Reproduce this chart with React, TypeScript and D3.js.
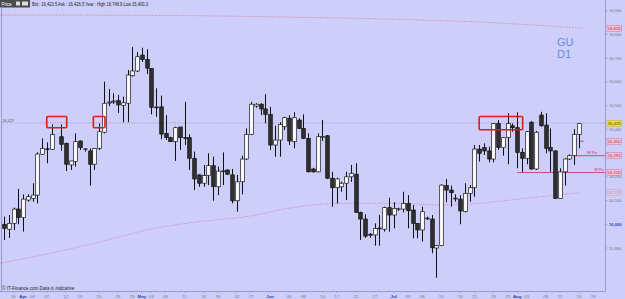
import React from 'react';
import * as d3 from 'd3';

const W = 625;
const H = 299;

// Trading sessions: Mon-Fri plus Sunday sessions (FX), Mar 28 – Aug 19, 2011
const SESSION_START = new Date(2011, 2, 28);
const SESSION_END = new Date(2011, 7, 19);

// OHLC per session index (null = no candle)
const opens: (number | null)[] = [16000,15979,16004,16064,16028,16102,16109,16123,16295,16318,16316,null,16369,16341,16250,16264,16351,16317,16309,16253,16320,16388,16511,16515,16521,16500,16510,16626,16646,16713,16694,16657,16494,16495,16383,16365,16348,16410,16365,16365,16278,16208,16173,16205,16247,16158,16224,16229,16208,16099,16179,16275,16379,16498,16506,16486,16463,16334,16355,16411,16447,16348,16439,16404,16362,16233,16221,16366,16373,16194,16154,16158,16173,16200,16211,16050,16022,15958,15955,15983,15979,16070,16039,16064,16064,16088,16060,16004,15976,16025,16022,15900,15910,16163,16144,16109,16106,16053,16130,16154,16317,16323,16309,16275,16425,16323,16365,16415,16407,16303,16278,16430,16233,16460,16418,16323,16309,16109,16221,16275,16289,16379];
const highs: (number | null)[] = [16032,16039,16070,16149,16126,16126,16173,16303,16362,16345,16421,null,16421,16344,16267,16383,16353,16320,16320,16321,16425,16601,16570,16552,16545,16538,16650,16747,16726,16744,16738,16658,16573,16542,16460,16369,16411,16410,16516,16379,16306,16211,16250,16299,16285,16243,16303,16230,16233,16208,16289,16404,16516,16510,16510,16548,16495,16415,16430,16453,16460,16472,16447,16463,16383,16238,16383,16439,16376,16221,16196,16179,16221,16250,16257,16053,16042,15963,16004,16039,16074,16112,16093,16070,16137,16123,16081,16005,16074,16032,16039,15913,16168,16191,16163,16126,16123,16173,16165,16334,16334,16341,16327,16427,16439,16366,16468,16425,16472,16320,16393,16435,16393,16474,16468,16404,16313,16236,16278,16295,16401,16425];
const lows: (number | null)[] = [15934,15942,15976,16000,15969,16095,16095,16088,16292,16257,16313,null,16310,16224,16229,16243,16313,16306,16163,16229,16313,16383,16498,16507,16469,16430,16430,16622,16642,16684,16633,16463,16453,16358,16355,16348,16267,16313,16334,16229,16144,16158,16158,16165,16099,16123,16165,16208,16088,16053,16126,16271,16376,16491,16460,16425,16313,16285,16285,16397,16334,16320,16401,16359,16219,16217,16219,16351,16191,16074,16088,16137,16102,16179,16049,15934,15943,15943,15910,15910,15969,15969,15983,16056,16050,15983,15941,15941,15927,16018,15878,15775,15908,16093,16074,16095,16000,16050,16095,16116,16264,16292,16261,16261,16313,16289,16253,16390,16236,16221,16253,16229,16229,16411,16299,16221,16108,16108,16163,16271,16250,16320];
const closes: (number | null)[] = [15983,16004,16064,16028,16106,16116,16123,16296,16320,16316,16379,null,16337,16253,16267,16348,16323,16318,16253,16320,16390,16510,16515,16519,16503,16512,16629,16646,16706,16694,16658,16493,16491,16380,16365,16348,16407,16365,16364,16278,16191,16173,16205,16247,16158,16224,16225,16211,16099,16179,16275,16379,16506,16506,16486,16463,16334,16355,16421,16449,16351,16449,16404,16362,16221,16221,16369,16370,16194,16154,16191,16173,16200,16215,16050,16022,15950,15954,15983,15984,16070,16039,16067,16065,16088,16057,16004,15976,16053,16026,15901,15910,16165,16144,16133,16110,16056,16130,16154,16317,16299,16309,16275,16425,16323,16365,16425,16407,16303,16278,16390,16233,16388,16415,16320,16309,16109,16221,16275,16289,16379,16424];

// Date tick labels
const tickDates = ['2011-03-30','2011-04-01','2011-04-04','2011-04-07','2011-04-12','2011-04-15','2011-04-20','2011-04-25','2011-04-28','2011-05-01','2011-05-03','2011-05-06','2011-05-11','2011-05-16','2011-05-19','2011-05-24','2011-05-27','2011-06-01','2011-06-06','2011-06-09','2011-06-14','2011-06-17','2011-06-22','2011-06-27','2011-07-01','2011-07-05','2011-07-08','2011-07-13','2011-07-18','2011-07-21','2011-07-26','2011-07-29','2011-08-01','2011-08-03','2011-08-08','2011-08-11','2011-08-16','2011-08-19'];
const tickLabels = ['30','Apr','04','07','12','15','20','25','28','May','03','06','11','16','19','24','27','Jun','06','09','14','17','22','27','Jul','05','08','13','18','21','26','29','Aug','03','08','11','16','19'];

// Price axis ticks
const priceTicks = [15900, 16000, 16100, 16200, 16300, 16400, 16500, 16600, 16700, 16800, 16900];

// Moving averages (sampled by session index)
const maTopIdx = [-1, 20, 40, 60, 80, 100, 122];
const maTopVal = [16882, 16881, 16879, 16873, 16865, 16852, 16826];
const maLowIdx = [-1, 10, 20, 31, 41, 51, 61, 71, 82, 92, 99, 110, 121];
const maLowVal = [15835, 15879, 15925, 15980, 16011, 16032, 16071, 16088, 16088, 16081, 16087, 16110, 16133];

// Levels
const lastPrice = 16425;
const refLevel = 16427;
const weeklyPivot = 16289;
const monthlyPivot = 16218;
const dailyLevel = 16350;

// Right-axis boxed level labels
const boxValues = [16826, dailyLevel, weeklyPivot, monthlyPivot, 16133, lastPrice];
const boxTexts = ['16,826', '16,350', '16,282', '16,220', '16,133', '16,425'];
const boxKinds = ['red', 'red', 'red', 'red', 'faded', 'yellow'];

// Annotation boxes (session index range, price range)
const boxIdxFrom = [9.0, 18.8, 100.0];
const boxIdxTo = [13.2, 21.25, 109.15];
const boxPriceHi = [16454, 16454, 16454];
const boxPriceLo = [16407, 16407, 16398];

function buildSessions(): string[] {
  const out: string[] = [];
  const d = new Date(SESSION_START);
  while (d <= SESSION_END) {
    if (d.getDay() !== 6) out.push(d3.timeFormat('%Y-%m-%d')(d));
    d.setDate(d.getDate() + 1);
  }
  return out;
}

const boxStyles: Record<string, { fill: string; stroke: string; color: string }> = {
  red: { fill: '#ecc4dc', stroke: '#d07090', color: '#c82a3a' },
  faded: { fill: '#dccbe8', stroke: '#c4a0c4', color: '#b090b0' },
  yellow: { fill: '#f2e03a', stroke: '#c8b020', color: '#333' },
};

export default function App() {
  const sessions = buildSessions();
  const idxOf = new Map(sessions.map((s, i) => [s, i]));
  const x = d3.scaleLinear().domain([0, sessions.length - 1]).range([4, 4 + 4.752 * (sessions.length - 1)]);
  const y = d3.scaleLinear().domain([15900, 16900]).range([248, 10.7]);
  const fmt = d3.format(',');

  const plotRight = 605;
  const plotBottom = 291.5;

  const lineTop = d3.line<number>().x((_, i) => x(maTopIdx[i])).y((v) => y(v)).curve(d3.curveMonotoneX)(maTopVal) || '';
  const lineLow = d3.line<number>().x((_, i) => x(maLowIdx[i])).y((v) => y(v)).curve(d3.curveMonotoneX)(maLowVal) || '';

  const bg = '#cecefa';
  const font = 'Liberation Sans, Arial, sans-serif';

  const candles = opens.map((o, i) => {
    if (o == null) return null;
    const h = highs[i] as number, l = lows[i] as number, c = closes[i] as number;
    const cx = Math.round(x(i));
    const up = c >= o;
    const top = y(Math.max(o, c));
    const bot = y(Math.min(o, c));
    return (
      <g key={i}>
        <line x1={cx + 0.5} x2={cx + 0.5} y1={y(h)} y2={y(l)} stroke="#111" strokeWidth={1} />
        <rect x={cx - 1.3} y={top} width={3.6} height={Math.max(bot - top, 0.8)} fill={up ? '#ffffff' : '#303030'} stroke="#111" strokeWidth={0.7} />
      </g>
    );
  });

  const hiddenTick = (t: number) => boxValues.some((b) => Math.abs(y(t) - y(b)) < 3.2);

  return (
    <svg width={W} height={H} style={{ position: 'fixed', left: 0, top: 0 }} xmlns="http://www.w3.org/2000/svg">
      <rect x={0} y={0} width={W} height={H} fill={bg} />
      {/* header */}
      <rect x={0} y={0} width={30} height={7.5} fill="#4a4a4a" />
      <text x={1.5} y={5.6} fontSize={4.5} fill="#fff" fontFamily={font}>Price</text>
      <rect x={16} y={1.5} width={4} height={4} fill="#ddd" />
      <rect x={22} y={1.5} width={6} height={4} fill="#ddd" />
      <text x={32} y={5.6} fontSize={4.6} fill="#222" fontFamily={font} textLength={116} lengthAdjust="spacingAndGlyphs">Bid : 16,423.5 Ask : 16,426.5  Year : High 16,746.9 Low 15,400.3</text>

      {/* frame */}
      <line x1={1.5} x2={1.5} y1={8} y2={plotBottom} stroke="#9a9ad2" strokeWidth={1} />
      <line x1={0} x2={plotRight} y1={plotBottom} y2={plotBottom} stroke="#9a9ad2" strokeWidth={1} />
      <line x1={plotRight + 0.5} x2={plotRight + 0.5} y1={0} y2={plotBottom} stroke="#9a9ad2" strokeWidth={1} />

      {/* moving averages */}
      <path d={lineTop} fill="none" stroke="#d77a98" strokeWidth={0.8} strokeDasharray="1.5,1.5" />
      <path d={lineLow} fill="none" stroke="#c982a6" strokeWidth={0.8} strokeDasharray="1.5,1.5" />

      {/* reference level */}
      <line x1={2} x2={plotRight} y1={y(refLevel)} y2={y(refLevel)} stroke="#8a8aa8" strokeWidth={0.6} strokeDasharray="1.2,1.2" />
      <text x={2.5} y={y(refLevel) - 1} fontSize={3.8} fill="#555" fontFamily={font}>{fmt(refLevel)}</text>

      {/* pivots */}
      <line x1={x(119.7)} x2={plotRight} y1={y(weeklyPivot)} y2={y(weeklyPivot)} stroke="#c23050" strokeWidth={0.8} />
      <text x={597} y={y(weeklyPivot) - 1.2} fontSize={3.8} fill="#c23050" textAnchor="end" fontFamily={font}>W Piv</text>
      <line x1={x(108)} x2={plotRight} y1={y(monthlyPivot)} y2={y(monthlyPivot)} stroke="#c23050" strokeWidth={0.8} />
      <text x={604} y={y(monthlyPivot) - 1.2} fontSize={3.8} fill="#c23050" textAnchor="end" fontFamily={font}>M Piv</text>
      <line x1={x(121)} x2={x(122)} y1={y(dailyLevel)} y2={y(dailyLevel)} stroke="#c23050" strokeWidth={0.8} />

      {/* candles */}
      {candles}

      {/* annotation boxes */}
      {boxIdxFrom.map((f, i) => (
        <rect key={i} x={x(f)} y={y(boxPriceHi[i])} width={x(boxIdxTo[i]) - x(f)} height={y(boxPriceLo[i]) - y(boxPriceHi[i])} fill="none" stroke="#e01a1a" strokeWidth={1.6} rx={1} />
      ))}

      {/* symbol label */}
      <text x={557} y={45.5} fontSize={11} fill="#5f8fdc" fontFamily={font}>GU</text>
      <text x={557} y={58} fontSize={11} fill="#5f8fdc" fontFamily={font}>D1</text>

      {/* right axis */}
      {priceTicks.map((t) => (
        <g key={t}>
          <line x1={plotRight} x2={plotRight + 2.5} y1={y(t)} y2={y(t)} stroke="#8a8ac0" strokeWidth={0.6} />
          {!hiddenTick(t) && (
            <text x={609} y={y(t) + 1.5} fontSize={4.1} fill={t === 16000 ? '#2b3fa8' : '#777'} fontWeight={t === 16000 ? 'bold' : 'normal'} fontFamily={font}>{fmt(t)}</text>
          )}
        </g>
      ))}
      {boxValues.map((v, i) => {
        const s = boxStyles[boxKinds[i]];
        return (
          <g key={'b' + i}>
            <rect x={607} y={y(v) - 3} width={14.5} height={6} fill={s.fill} stroke={s.stroke} strokeWidth={0.5} />
            <text x={614.2} y={y(v) + 1.5} fontSize={4.2} fill={s.color} textAnchor="middle" fontFamily={font}>{boxTexts[i]}</text>
          </g>
        );
      })}

      {/* copyright */}
      <text x={2} y={289.5} fontSize={4.6} fill="#222" fontFamily={font}>© IT-Finance.com  <tspan fontStyle="italic">Data is indicative</tspan></text>

      {/* x axis labels */}
      {tickDates.map((d, i) => {
        const idx = idxOf.get(d) as number;
        const isMonth = /[A-Za-z]/.test(tickLabels[i]);
        return (
          <g key={d}>
            <line x1={x(idx)} x2={x(idx)} y1={plotBottom} y2={plotBottom + 1.5} stroke="#8a8ac0" strokeWidth={0.5} />
            <text x={x(idx)} y={297.8} fontSize={4.4} textAnchor="middle" fill={isMonth ? '#2b3fa8' : '#777'} fontWeight={isMonth ? 'bold' : 'normal'} fontFamily={font}>{tickLabels[i]}</text>
          </g>
        );
      })}
    </svg>
  );
}
